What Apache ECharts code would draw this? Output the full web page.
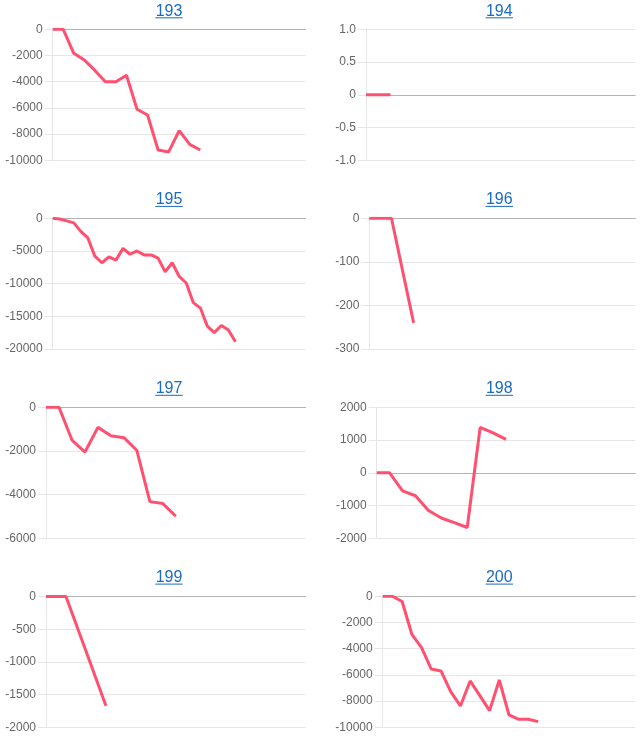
<!DOCTYPE html>
<html><head><meta charset="utf-8">
<script src="https://cdn.jsdelivr.net/npm/echarts@6/dist/echarts.min.js"></script>
<style>html,body{margin:0;padding:0;background:#fff}#c{width:641px;height:743px}</style>
</head><body><div id="c"></div>
<script>
// ---- data ----
const titles = ["193", "194", "195", "196", "197", "198", "199", "200"];

const catCount193 = 25, catCount194 = 12, catCount195 = 37, catCount196 = 13;
const catCount197 = 21, catCount198 = 21, catCount199 = 14, catCount200 = 27;

const s193 = [0, 0, -1830, -2340, -3140, -4000, -4000, -3510, -6100, -6540, -9210, -9360, -7740, -8780, -9210];
const s194 = [0, 0];
const s195 = [0, -100, -400, -700, -2000, -3000, -5800, -6800, -5900, -6400, -4600, -5500, -5000, -5600, -5600, -6100, -8200, -6800, -8900, -9900, -12900, -13700, -16500, -17500, -16400, -17100, -18900];
const s196 = [0, 0, -240];
const s197 = [0, 0, -1500, -2050, -920, -1300, -1390, -1980, -4320, -4410, -4990];
const s198 = [0, 0, -550, -700, -1150, -1380, -1520, -1670, 1385, 1220, 1020];
const s199 = [0, 0, -835, -1670];
const s200 = [0, 0, -400, -2900, -3920, -5550, -5700, -7280, -8370, -6460, -7580, -8730, -6390, -9060, -9390, -9390, -9570];

const ticks193 = ["0", "-2000", "-4000", "-6000", "-8000", "-10000"];
const ticks194 = ["1.0", "0.5", "0", "-0.5", "-1.0"];
const ticks195 = ["0", "-5000", "-10000", "-15000", "-20000"];
const ticks196 = ["0", "-100", "-200", "-300"];
const ticks197 = ["0", "-2000", "-4000", "-6000"];
const ticks198 = ["2000", "1000", "0", "-1000", "-2000"];
const ticks199 = ["0", "-500", "-1000", "-1500", "-2000"];
const ticks200 = ["0", "-2000", "-4000", "-6000", "-8000", "-10000"];

// ---- layout / style ----
const panels = [
  {title: titles[0], n: catCount193, s: s193, ticks: ticks193, left: 52.7, top: 29.3, width: 253, height: 131, cx: 169},
  {title: titles[1], n: catCount194, s: s194, ticks: ticks194, left: 366, top: 29.3, width: 269.3, height: 131, cx: 499.3},
  {title: titles[2], n: catCount195, s: s195, ticks: ticks195, left: 52.7, top: 218.3, width: 253, height: 130.7, cx: 169},
  {title: titles[3], n: catCount196, s: s196, ticks: ticks196, left: 369.3, top: 218.3, width: 266, height: 130.7, cx: 499.3},
  {title: titles[4], n: catCount197, s: s197, ticks: ticks197, left: 46, top: 407.3, width: 259.7, height: 131, cx: 169},
  {title: titles[5], n: catCount198, s: s198, ticks: ticks198, left: 376.7, top: 407.3, width: 258.6, height: 131, cx: 499.3},
  {title: titles[6], n: catCount199, s: s199, ticks: ticks199, left: 46, top: 596.5, width: 259.7, height: 130.8, cx: 169},
  {title: titles[7], n: catCount200, s: s200, ticks: ticks200, left: 382.7, top: 596.3, width: 252.6, height: 131, cx: 499.3}
];
const titleY = [11.3, 11.3, 199.9, 199.9, 388.8, 388.8, 577.6, 577.6];
const FONT = '"Liberation Sans", Arial, Helvetica, sans-serif';
const LINK = '#1a6bc4';
const LINE = '#ff5070';
const GRID = '#e6e6e6';
const ZERO = '#b3b3b3';

const grid = [], xAxis = [], yAxis = [], series = [], graphic = [];
panels.forEach((p, i) => {
  const vals = p.ticks.map(parseFloat);
  const mx = Math.max(...vals), mn = Math.min(...vals);
  const step = Math.abs(vals[0] - vals[1]);
  grid.push({left: p.left, top: p.top, width: p.width, height: p.height, containLabel: false});
  xAxis.push({
    type: 'category', gridIndex: i, boundaryGap: false,
    data: Array.from({length: p.n}, (_, k) => String(k + 1)),
    axisLine: {show: true, onZero: true, lineStyle: {color: ZERO, width: 1}},
    axisTick: {show: false}, axisLabel: {show: false}, splitLine: {show: false}
  });
  yAxis.push({
    type: 'value', gridIndex: i, min: mn, max: mx, interval: step,
    axisLine: {show: true, lineStyle: {color: GRID, width: 1}},
    axisTick: {show: true, length: 8, lineStyle: {color: GRID}},
    splitLine: {show: true, lineStyle: {color: GRID, width: 1}},
    axisLabel: {
      margin: 10, color: '#666', fontSize: 12, fontFamily: FONT,
      formatter: v => {
        const idx = vals.findIndex(t => Math.abs(t - v) < 1e-9);
        return idx >= 0 ? p.ticks[idx] : String(v);
      }
    }
  });
  series.push({
    type: 'line', xAxisIndex: i, yAxisIndex: i, data: p.s,
    symbol: 'none', smooth: false, clip: true,
    lineStyle: {color: LINE, width: 3}, itemStyle: {color: LINE}
  });
  graphic.push({
    type: 'text', x: p.cx, y: titleY[i],
    style: {text: p.title, fill: LINK, font: '16px ' + FONT, align: 'center', verticalAlign: 'middle'}
  });
  graphic.push({
    type: 'line', shape: {x1: p.cx - 13.7, y1: titleY[i] + 6.5, x2: p.cx + 13.7, y2: titleY[i] + 6.5},
    style: {stroke: LINK, lineWidth: 1}
  });
});

const chart = echarts.init(document.getElementById('c'), null, {renderer: 'canvas'});
chart.setOption({
  animation: false,
  backgroundColor: '#fff',
  textStyle: {fontFamily: FONT},
  grid, xAxis, yAxis, series, graphic
});
</script></body></html>
